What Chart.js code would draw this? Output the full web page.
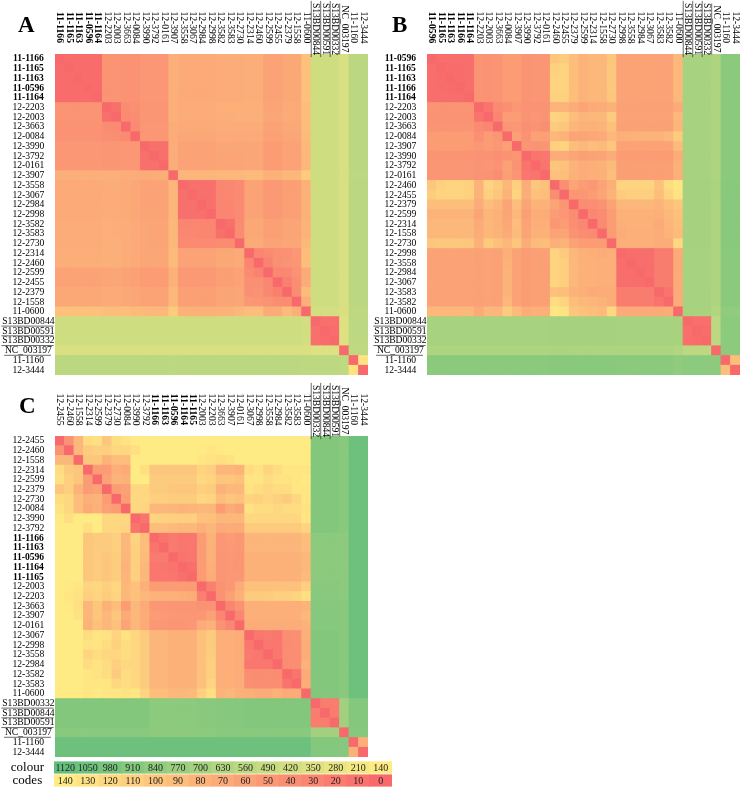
<!DOCTYPE html>
<html><head><meta charset="utf-8">
<style>html,body{margin:0;padding:0;background:#fff;width:740px;height:787px;overflow:hidden}canvas{position:absolute;display:block}</style>
<script src="https://cdn.jsdelivr.net/npm/chart.js@4"></script>
</head><body>
<canvas id="a" width="368" height="375" style="left:0;top:0;width:368px;height:375px"></canvas>
<canvas id="b" width="368" height="375" style="left:372px;top:0;width:368px;height:375px"></canvas>
<canvas id="c" width="368" height="375" style="left:0;top:382px;width:368px;height:375px"></canvas>
<canvas id="d" width="392" height="26" style="left:0;top:761px;width:392px;height:26px"></canvas>
<script>
const labelsA=["11-1166","11-1165","11-1163","11-0596","11-1164","12-2203","12-2003","12-3663","12-0084","12-3990","12-3792","12-0161","12-3907","12-3558","12-3067","12-2984","12-2998","12-3582","12-3583","12-2730","12-2314","12-2460","12-2599","12-2455","12-2379","12-1558","11-0600","S13BD00844","S13BD00591","S13BD00332","NC_003197","11-1160","12-3444"];
const labelsB=["11-0596","11-1165","11-1163","11-1166","11-1164","12-2203","12-2003","12-3663","12-0084","12-3907","12-3990","12-3792","12-0161","12-2460","12-2455","12-2379","12-2599","12-2314","12-1558","12-2730","12-2998","12-3558","12-2984","12-3067","12-3583","12-3582","11-0600","S13BD00844","S13BD00591","S13BD00332","NC_003197","11-1160","12-3444"];
const labelsC=["12-2455","12-2460","12-1558","12-2314","12-2599","12-2379","12-2730","12-0084","12-3990","12-3792","11-1166","11-1163","11-0596","11-1164","11-1165","12-2003","12-2203","12-3663","12-3907","12-0161","12-3067","12-2998","12-3558","12-2984","12-3582","12-3583","11-0600","S13BD00332","S13BD00844","S13BD00591","NC_003197","11-1160","12-3444"];
// upper triangles of the distance matrices: row i lists columns i+1..32
const upperA=[
[3,3,3,3,46,46,44,44,50,50,50,76,70,70,70,70,72,72,72,74,74,62,62,68,68,95,440,440,440,380,570,570],
[3,3,3,46,46,44,44,50,50,50,76,70,70,70,70,72,72,72,74,74,62,62,68,68,95,440,440,440,380,570,570],
[3,3,46,46,44,44,50,50,50,76,70,70,70,70,72,72,72,74,74,62,62,68,68,95,440,440,440,380,570,570],
[3,46,46,44,44,50,50,50,76,70,70,70,70,72,72,72,74,74,62,62,68,68,95,440,440,440,380,570,570],
[46,46,44,44,50,50,50,76,70,70,70,70,72,72,72,74,74,62,62,68,68,95,440,440,440,380,570,570],
[8,38,42,48,48,48,75,72,72,72,72,75,75,75,76,76,65,65,70,70,92,445,445,445,385,570,570],
[36,40,48,48,48,76,72,72,72,72,74,74,76,76,76,66,66,70,70,92,445,445,445,385,570,570],
[36,50,50,50,72,70,70,70,70,72,72,72,72,72,62,62,68,68,90,440,440,440,380,570,570],
[50,50,50,72,68,68,68,68,70,70,70,70,70,60,60,66,66,88,440,440,440,380,565,565],
[7,7,72,62,62,62,62,66,66,66,66,66,55,55,62,62,86,440,440,440,380,565,565],
[7,72,62,62,62,62,64,64,64,66,66,55,55,62,62,85,440,440,440,380,565,565],
[74,62,62,62,62,64,64,64,66,66,55,55,62,62,85,440,440,440,380,565,565],
[82,82,82,82,85,85,85,88,88,78,78,84,84,105,440,440,440,380,560,560],
[8,8,8,30,32,36,62,62,52,52,58,58,78,440,440,440,380,565,565],
[8,8,30,32,36,62,62,52,52,58,58,78,440,440,440,380,565,565],
[6,30,30,36,62,62,52,52,58,58,78,440,440,440,380,565,565],
[30,30,36,62,62,52,52,58,58,78,440,440,440,380,565,565],
[8,38,68,68,58,58,64,64,80,440,440,440,380,565,565],
[38,68,68,58,58,64,64,80,440,440,440,380,565,565],
[70,70,62,62,66,66,85,440,440,440,380,565,565],
[30,35,42,42,50,90,440,440,440,380,565,565],
[28,42,45,48,90,440,440,440,380,565,565],
[32,32,45,70,440,440,440,380,565,565],
[25,40,72,440,440,440,380,565,565],
[38,88,440,440,440,380,565,565],
[75,440,440,440,380,565,565],
[420,420,420,370,550,550],
[8,8,350,560,560],
[3,350,560,560],
[350,560,560],
[540,540],
[130]];
const upperB=[
[5,5,5,5,46,44,46,55,55,46,48,48,100,108,90,80,85,85,100,62,62,62,62,62,62,85,690,690,690,640,870,870],
[4,4,5,46,44,46,55,55,46,48,48,112,115,92,80,85,85,102,62,62,62,62,62,62,85,690,690,690,640,870,870],
[4,5,46,44,46,55,55,46,48,48,115,115,92,80,85,85,102,62,62,62,62,62,62,85,690,690,690,640,870,870],
[5,46,44,46,55,55,46,48,48,115,115,92,80,85,85,102,62,62,62,62,62,62,85,690,690,690,640,870,870],
[46,44,46,55,55,46,48,48,112,112,90,80,85,85,100,62,62,62,62,62,62,85,690,690,690,640,870,870],
[12,35,42,50,45,45,45,80,80,72,65,70,72,78,60,60,60,60,60,60,70,690,690,690,640,870,870],
[30,55,55,45,48,45,115,110,90,82,85,85,105,62,62,62,62,62,62,85,690,690,690,640,870,870],
[48,50,42,45,40,105,100,82,78,78,80,95,60,60,60,60,60,60,82,690,690,690,640,870,870],
[58,45,60,58,85,80,65,65,68,70,85,75,78,80,80,80,85,105,690,690,690,640,870,870],
[48,45,48,110,115,90,85,90,88,100,62,62,62,62,62,62,88,690,690,690,640,870,870],
[12,15,72,72,65,58,62,65,72,55,55,55,55,55,55,72,690,690,690,640,870,870],
[12,100,95,80,72,75,78,88,58,58,58,58,58,58,78,690,690,690,640,870,870],
[95,92,78,72,75,78,90,58,58,58,58,58,58,75,690,690,690,640,870,870],
[40,65,55,50,62,75,115,115,115,115,95,125,135,700,700,700,660,880,880],
[48,50,55,65,80,105,110,110,110,90,115,130,700,700,700,660,880,880],
[38,40,45,62,85,85,85,85,80,90,100,700,700,700,650,880,880],
[32,38,55,78,78,78,78,75,85,95,700,700,700,650,880,880],
[35,55,75,78,78,78,70,82,92,700,700,700,650,880,880],
[55,72,75,75,75,72,80,88,700,700,700,650,880,880],
[75,75,75,75,72,72,120,700,700,700,650,880,880],
[5,5,5,22,22,70,690,690,690,640,870,870],
[5,5,22,22,70,690,690,690,640,870,870],
[5,22,22,70,690,690,690,640,870,870],
[22,22,70,690,690,690,640,870,870],
[12,70,690,690,690,640,870,870],
[72,690,690,690,640,870,870],
[680,680,680,630,840,840],
[6,6,560,860,860],
[4,560,860,860],
[560,860,860],
[850,850],
[90]];
const upperC=[
[45,85,125,128,100,125,130,138,140,142,142,142,142,142,142,142,142,142,142,142,142,142,142,142,142,142,920,920,920,890,1060,1060],
[85,105,110,110,120,118,128,140,140,140,140,140,140,138,135,138,140,140,140,140,140,140,140,140,140,920,920,920,890,1060,1060],
[100,100,80,92,90,140,140,140,140,140,140,140,135,130,128,130,140,140,140,140,140,140,140,140,920,920,920,890,1060,1060],
[55,55,75,70,140,128,100,100,100,100,100,115,110,82,82,80,125,130,115,125,135,135,135,920,920,920,890,1060,1060],
[62,80,78,140,140,105,105,105,105,105,120,115,100,100,95,132,132,125,130,130,135,138,920,920,920,890,1060,1060],
[55,60,120,118,105,105,100,100,100,110,108,78,85,85,130,125,118,125,125,135,135,920,920,920,890,1060,1060],
[55,120,118,110,110,108,108,108,118,115,92,100,95,115,112,118,110,105,118,135,920,920,920,890,1060,1060],
[120,115,85,85,82,80,82,85,85,55,70,65,130,125,125,120,125,125,130,920,920,920,890,1060,1060],
[12,115,112,110,110,110,95,95,85,85,85,118,118,118,118,118,118,135,920,920,920,890,1060,1060],
[90,90,88,85,85,75,85,70,72,70,105,105,105,105,105,105,115,920,920,920,890,1060,1060],
[12,18,15,15,55,80,50,55,50,82,82,82,82,82,82,90,860,860,860,850,1050,1050],
[18,14,15,55,78,50,52,50,82,82,82,82,82,82,90,860,860,860,850,1050,1050],
[12,14,55,78,48,50,48,78,78,78,78,78,78,85,860,860,860,850,1050,1050],
[8,55,75,48,50,48,78,78,78,78,78,78,85,860,860,860,850,1050,1050],
[55,72,48,50,50,78,78,78,78,78,78,88,860,860,860,850,1050,1050],
[25,45,50,72,95,95,95,95,95,95,110,880,880,880,860,1050,1050],
[45,60,78,105,105,108,110,110,115,128,880,880,880,860,1050,1050],
[30,45,75,75,75,75,75,75,80,900,900,900,880,1050,1050],
[32,75,75,75,75,75,75,85,900,900,900,880,1050,1050],
[72,72,72,72,72,72,78,900,900,900,880,1050,1050],
[15,18,15,40,42,75,920,920,920,890,1060,1060],
[15,15,38,40,72,920,920,920,890,1060,1060],
[15,40,40,72,920,920,920,890,1060,1060],
[38,40,78,920,920,920,890,1060,1060],
[12,70,920,920,920,890,1060,1060],
[72,920,920,920,890,1060,1060],
[920,920,920,890,1060,1060],
[22,20,720,910,910],
[22,720,910,910],
[720,910,910],
[900,900],
[75]];
const legendNames=["colour","codes"];
const legendTop=[1120,1050,980,910,840,770,700,630,560,490,420,350,280,210,140];
const legendBottom=[140,130,120,110,100,90,80,70,60,50,40,30,20,10,0];

const FONT='"Liberation Serif","Times New Roman",serif';
const RED=[248,105,107],YEL=[255,235,132],GRN=[99,190,123];
function mix(a,b,t){return `rgb(${a.map((v,i)=>Math.round(v+(b[i]-v)*t)).join(',')})`;}
function colorFor(v){return v<=140?mix(RED,YEL,v/140):mix(YEL,GRN,Math.min(1,(v-140)/980));}
function isBold(l){return ["11-1166","11-1165","11-1163","11-0596","11-1164"].includes(l);}
function isLink(l){return l.startsWith("S13")||l.startsWith("NC_");}
const FS=9.6;
function noPad(s){s.paddingTop=0;s.paddingBottom=0;s.paddingLeft=0;s.paddingRight=0;}
function cells(labels,upper){
  const out=[];
  labels.forEach((l,r)=>labels.forEach((_,c)=>{
    const v=r===c?0:(r<c?upper[r][c-r-1]:upper[c][r-c-1]);
    out.push({y:l,x:[c,c+1],v});
  }));
  return out;
}
const panelPlugin=(letter,lx,ly)=>({
  id:'panel'+letter,
  afterDraw(chart){
    const c=chart.ctx,top=chart.scales.xTop,y=chart.scales.y;
    c.save();
    c.fillStyle='#000';
    c.font=`bold 23px ${FONT}`;c.textAlign='left';c.textBaseline='alphabetic';
    c.fillText(letter,lx,ly);
    top.ticks.forEach((t,i)=>{
      const l=t.label,px=top.getPixelForTick(i);
      c.save();
      c.translate(px,isLink(l)?29:27.5);
      c.rotate(Math.PI/2);
      c.font=`${isBold(l)?'bold ':''}${FS}px ${FONT}`;
      c.textAlign='center';c.textBaseline='middle';c.fillStyle='#000';
      c.fillText(l,0,0);
      if(isLink(l)){
        const w=c.measureText(l).width;
        c.strokeStyle='#444';c.lineWidth=0.8;
        c.beginPath();c.moveTo(-w/2-2,4.6);c.lineTo(w/2+2,4.6);c.stroke();
      }
      c.restore();
    });
    y.ticks.forEach((t,i)=>{
      const l=t.label;
      if(!isLink(l))return;
      const py=y.getPixelForTick(i);
      c.font=`${FS}px ${FONT}`;
      const w=c.measureText(l).width;
      c.strokeStyle='#444';c.lineWidth=0.8;
      c.beginPath();c.moveTo(27.5-w/2,py+4.6);c.lineTo(27.5+w/2,py+4.6);c.stroke();
    });
    c.restore();
  }
});
function heat(id,labels,upper,letter,lx,ly){
  new Chart(document.getElementById(id),{
    type:'bar',
    data:{labels,datasets:[{data:cells(labels,upper),
      backgroundColor:ctx=>ctx.raw?colorFor(ctx.raw.v):'#fff',
      borderWidth:0,barPercentage:1,categoryPercentage:1,grouped:false,inflateAmount:0.4}]},
    options:{
      indexAxis:'y',responsive:false,animation:false,
      layout:{padding:0},
      plugins:{legend:{display:false},tooltip:{enabled:false},title:{display:false}},
      scales:{
        x:{type:'linear',min:0,max:labels.length,display:false},
        xTop:{axis:'x',type:'category',position:'top',labels,offset:true,
          grid:{display:false},border:{display:false},
          ticks:{display:false,autoSkip:false},
          afterFit:s=>{s.height=54;noPad(s);}},
        y:{type:'category',labels,offset:true,
          grid:{display:false,drawTicks:false},border:{display:false},
          ticks:{autoSkip:false,crossAlign:'center',padding:0.5,color:'#000',
            font:ctx=>({family:FONT,size:FS,weight:ctx.tick&&isBold(ctx.tick.label)?'bold':'normal'})},
          afterFit:s=>{s.width=55;noPad(s);}}
      }
    },
    plugins:[panelPlugin(letter,lx,ly)]
  });
}
heat('a',labelsA,upperA,'A',18,32);
heat('b',labelsB,upperB,'B',20,32);
heat('c',labelsC,upperC,'C',19,31);

const legendCells=[];
legendTop.forEach((v,i)=>legendCells.push({y:legendNames[0],x:[i,i+1],v}));
legendBottom.forEach((v,i)=>legendCells.push({y:legendNames[1],x:[i,i+1],v}));
new Chart(document.getElementById('d'),{
  type:'bar',
  data:{labels:legendNames,datasets:[{data:legendCells,
    backgroundColor:ctx=>ctx.raw?colorFor(ctx.raw.v):'#fff',
    borderWidth:0,barPercentage:0.88,categoryPercentage:1,grouped:false,inflateAmount:0.4}]},
  options:{
    indexAxis:'y',responsive:false,animation:false,layout:{padding:0},
    plugins:{legend:{display:false},tooltip:{enabled:false}},
    scales:{
      x:{type:'linear',min:0,max:15,display:false},
      y:{type:'category',labels:legendNames,offset:true,
        grid:{display:false,drawTicks:false},border:{display:false},
        ticks:{autoSkip:false,crossAlign:'center',padding:10,color:'#000',font:{family:FONT,size:13}},
        afterFit:s=>{s.width=54;noPad(s);}}
    }
  },
  plugins:[{id:'cellText',afterDatasetsDraw(chart){
    const c=chart.ctx,meta=chart.getDatasetMeta(0);
    c.save();c.font=`10px ${FONT}`;c.fillStyle='#222';c.textAlign='center';c.textBaseline='middle';
    meta.data.forEach((el,i)=>{
      const p=el.getProps(['x','y','base']);
      c.fillText(String(legendCells[i].v),(p.x+p.base)/2,p.y+0.5);
    });
    c.restore();
  }}]
});
</script>
</body></html>
